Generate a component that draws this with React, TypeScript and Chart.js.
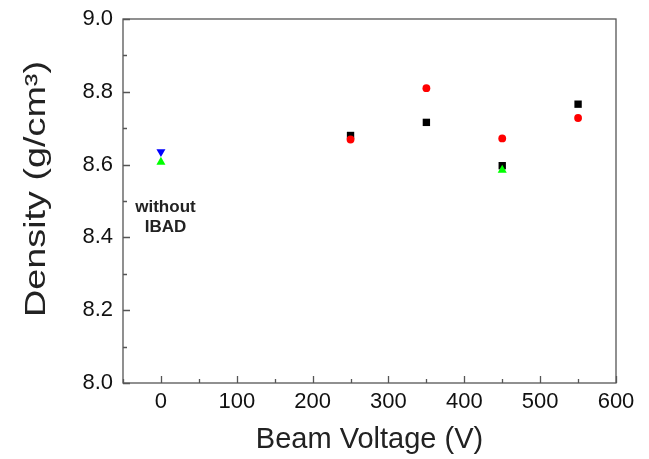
import React, { useEffect, useRef } from "react";
import { Chart, registerables } from "chart.js";

Chart.register(...registerables);

// ---- data ----
const SQUARE_X = [250, 350, 450, 550];
const SQUARE_Y = [8.68, 8.716, 8.597, 8.766];
const CIRCLE_X = [250, 350, 450, 550];
const CIRCLE_Y = [8.669, 8.81, 8.672, 8.728];
const UPTRI_X = [0, 450];
const UPTRI_Y = [8.607, 8.585];
const DOWNTRI_X = [0];
const DOWNTRI_Y = [8.635];

const X_TICKS = [0, 100, 200, 300, 400, 500, 600];
const X_MINOR = [-50, 50, 150, 250, 350, 450, 550];
const Y_TICKS = [8.0, 8.2, 8.4, 8.6, 8.8, 9.0];
const Y_MINOR = [8.1, 8.3, 8.5, 8.7, 8.9];

const NOTE_LINES = ["without", "IBAD"];
const NOTE_X = 6;
const NOTE_Y = 8.484;

const X_TITLE = "Beam Voltage (V)";
const Y_TITLE = "Density (g/cm³)";

const FONT = '"Liberation Sans", Arial, sans-serif';

const pts = (xs: number[], ys: number[]) => xs.map((x, i) => ({ x, y: ys[i] }));

const framePlugin = {
  id: "frameTicks",
  afterDatasetsDraw(chart: any) {
    const { ctx, chartArea, scales } = chart;
    const { left, right, top, bottom } = chartArea;
    const x = scales.x;
    const y = scales.y;
    ctx.save();
    // note text
    ctx.font = `bold 17px ${FONT}`;
    ctx.fillStyle = "#222";
    ctx.textAlign = "center";
    ctx.textBaseline = "middle";
    const nx = x.getPixelForValue(NOTE_X);
    const ny = y.getPixelForValue(NOTE_Y);
    NOTE_LINES.forEach((t, i) => ctx.fillText(t, nx, ny + i * 20));
    // frame
    ctx.strokeStyle = "#555";
    ctx.lineWidth = 1.3;
    ctx.strokeRect(left, top, right - left, bottom - top);
    // ticks
    ctx.beginPath();
    for (const v of X_TICKS) {
      const p = Math.round(x.getPixelForValue(v)) + 0.5;
      ctx.moveTo(p, bottom);
      ctx.lineTo(p, bottom - 7);
    }
    for (const v of X_MINOR) {
      const p = Math.round(x.getPixelForValue(v)) + 0.5;
      ctx.moveTo(p, bottom);
      ctx.lineTo(p, bottom - 4);
    }
    for (const v of Y_TICKS) {
      const p = Math.round(y.getPixelForValue(v)) + 0.5;
      ctx.moveTo(left, p);
      ctx.lineTo(left + 7, p);
    }
    for (const v of Y_MINOR) {
      const p = Math.round(y.getPixelForValue(v)) + 0.5;
      ctx.moveTo(left, p);
      ctx.lineTo(left + 4, p);
    }
    ctx.stroke();
    // y title (stretched along its length like the reference)
    ctx.font = `29px ${FONT}`;
    ctx.fillStyle = "#222";
    ctx.textAlign = "center";
    ctx.textBaseline = "middle";
    const w = ctx.measureText(Y_TITLE).width;
    const targetLen = 256;
    ctx.translate(37, (top + bottom) / 2 - 12);
    ctx.rotate(-Math.PI / 2);
    ctx.scale(targetLen / w, 1);
    ctx.fillText(Y_TITLE, 0, 0);
    ctx.restore();
  },
};

export default function App() {
  const ref = useRef<HTMLCanvasElement>(null);
  useEffect(() => {
    if (!ref.current) return;
    const chart = new Chart(ref.current, {
      type: "scatter",
      data: {
        datasets: [
          {
            label: "up",
            data: pts(UPTRI_X, UPTRI_Y),
            pointStyle: "triangle",
            pointRadius: 5.2,
            backgroundColor: "#00ff00",
            borderColor: "#00ff00",
            borderWidth: 0,
          },
          {
            label: "circle",
            data: pts(CIRCLE_X, CIRCLE_Y),
            pointStyle: "circle",
            pointRadius: 3.9,
            backgroundColor: "#ff0000",
            borderColor: "#ff0000",
            borderWidth: 0,
          },
          {
            label: "down",
            data: pts(DOWNTRI_X, DOWNTRI_Y),
            pointStyle: "triangle",
            rotation: 180,
            pointRadius: 5.2,
            backgroundColor: "#0000ff",
            borderColor: "#0000ff",
            borderWidth: 0,
          },
          {
            label: "square",
            data: pts(SQUARE_X, SQUARE_Y),
            pointStyle: "rect",
            pointRadius: 5.2,
            backgroundColor: "#000000",
            borderColor: "#000000",
            borderWidth: 0,
          },
        ],
      },
      options: {
        animation: false,
        responsive: false,
        maintainAspectRatio: false,
        layout: { padding: { top: 19, right: 33, left: 0, bottom: 0 } },
        plugins: { legend: { display: false }, tooltip: { enabled: false } },
        scales: {
          x: {
            type: "linear",
            min: -50,
            max: 600,
            afterBuildTicks: (s: any) => {
              s.ticks = X_TICKS.map((v) => ({ value: v }));
            },
            afterFit: (s: any) => {
              s.height = 76;
              s.paddingLeft = 0;
              s.paddingRight = 0;
            },
            grid: { display: false, drawTicks: false },
            border: { display: false },
            ticks: {
              padding: 6,
              color: "#111",
              font: { family: FONT, size: 22 },
              callback: (v: any) => String(v),
            },
            title: {
              display: true,
              text: X_TITLE,
              color: "#222",
              font: { family: FONT, size: 29 },
              padding: { top: 0, bottom: 2 },
            },
          },
          y: {
            type: "linear",
            min: 8.0,
            max: 9.0,
            afterBuildTicks: (s: any) => {
              s.ticks = Y_TICKS.map((v) => ({ value: v }));
            },
            afterFit: (s: any) => {
              s.width = 123;
              s.paddingTop = 0;
              s.paddingBottom = 0;
            },
            grid: { display: false, drawTicks: false },
            border: { display: false },
            ticks: {
              padding: 10,
              color: "#111",
              font: { family: FONT, size: 22 },
              callback: (v: any) => Number(v).toFixed(1),
            },
            title: { display: false },
          },
        },
      },
      plugins: [framePlugin],
    });
    return () => chart.destroy();
  }, []);
  return (
    <div style={{ position: "fixed", left: 0, top: 0, width: 649, height: 459, background: "#fff" }}>
      <canvas ref={ref} width={649} height={459} style={{ width: 649, height: 459 }} />
    </div>
  );
}
